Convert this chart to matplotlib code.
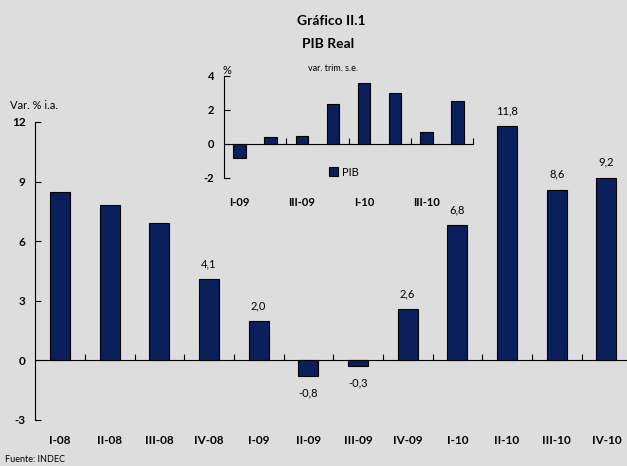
import matplotlib.pyplot as plt
import numpy as np

plt.rcParams['font.family'] = ['Lato', 'DejaVu Sans']

# datos grafico principal (var. % i.a.)
quarters = ['I-08', 'II-08', 'III-08', 'IV-08', 'I-09', 'II-09', 'III-09', 'IV-09',
            'I-10', 'II-10', 'III-10', 'IV-10']
pib_ia = [8.5, 7.8, 6.9, 4.1, 2.0, -0.8, -0.3, 2.6, 6.8, 11.8, 8.6, 9.2]
labels_ia = ['', '', '', '4,1', '2,0', '-0,8', '-0,3', '2,6', '6,8', '11,8', '8,6', '9,2']

# datos inset (var. trim. s.e.)
inset_quarters = ['I-09', 'II-09', 'III-09', 'IV-09', 'I-10', 'II-10', 'III-10', 'IV-10']
pib_trim = [-0.85, 0.4, 0.45, 2.35, 3.6, 3.0, 0.7, 2.55]
inset_ticklabels = ['I-09', 'III-09', 'I-10', 'III-10']

bg = '#dddddd'
navy = '#0b1f5c'

fig = plt.figure(figsize=(6.27, 4.66), dpi=100)
fig.patch.set_facecolor(bg)

W, H = 627.0, 466.0

# ---- main axes
ax = fig.add_axes([35.2 / W, (H - 420) / H, 596 / W, 298 / H])
ax.set_facecolor(bg)
x = np.arange(len(quarters))
ax.bar(x, pib_ia, width=0.4, color=navy, edgecolor='black', linewidth=0.8, zorder=3)
ax.set_xlim(-0.5, len(quarters) - 0.5)
ax.set_ylim(-3, 12)
ax.set_yticks([-3, 0, 3, 6, 9, 12])
ax.set_yticklabels(['-3', '0', '3', '6', '9', '12'], fontweight='bold', fontsize=8.5)
ax.tick_params(axis='y', direction='in', length=4, width=0.8, pad=7)

ax.spines['top'].set_visible(False)
ax.spines['right'].set_visible(False)
ax.spines['bottom'].set_position(('data', 0))
ax.spines['left'].set_linewidth(0.8)
ax.spines['bottom'].set_linewidth(0.8)

ax.set_xticks(x)
ax.set_xticklabels(quarters, fontweight='bold', fontsize=8.5)
ax.set_xticks(np.arange(len(quarters)) + 0.5, minor=True)
ax.tick_params(axis='x', which='major', length=0, pad=54)
ax.tick_params(axis='x', which='minor', direction='in', length=4, width=0.8)

for xi, v, lab in zip(x, pib_ia, labels_ia):
    if not lab:
        continue
    if v >= 0:
        ax.annotate(lab, (xi, v), xytext=(0, 7), textcoords='offset points',
                    ha='center', va='bottom', fontsize=8)
    else:
        ax.annotate(lab, (xi, v), xytext=(0, -8), textcoords='offset points',
                    ha='center', va='top', fontsize=8)

# ---- inset
axi = fig.add_axes([224 / W, (H - 178) / H, 249 / W, 102 / H])
axi.set_facecolor(bg)
axi.patch.set_alpha(0)
xi_ = np.arange(len(inset_quarters))
axi.bar(xi_, pib_trim, width=0.4, color=navy, edgecolor='black', linewidth=0.8,
        zorder=3, label='PIB')
axi.set_xlim(-0.5, len(inset_quarters) - 0.5)
axi.set_ylim(-2, 4)
axi.set_yticks([-2, 0, 2, 4])
axi.set_yticklabels(['-2', '0', '2', '4'], fontweight='bold', fontsize=8)
axi.tick_params(axis='y', direction='in', length=4, width=0.8, pad=7)
axi.spines['top'].set_visible(False)
axi.spines['right'].set_visible(False)
axi.spines['bottom'].set_position(('data', 0))
axi.spines['left'].set_linewidth(0.8)
axi.spines['bottom'].set_linewidth(0.8)
axi.set_xticks(xi_[::2])
axi.set_xticklabels(inset_ticklabels, fontweight='bold', fontsize=8)
axi.set_xticks(xi_[1::2] + 0.5, minor=True)
axi.tick_params(axis='x', which='major', length=0, pad=38)
axi.tick_params(axis='x', which='minor', direction='in', length=4, width=0.8)
axi.legend(loc='center', bbox_to_anchor=(344 / W, (H - 172) / H),
           bbox_transform=fig.transFigure, frameon=False, fontsize=8,
           handlelength=0.8, handleheight=0.8, handletextpad=0.4)

# ---- textos
fig.text(331 / W, 1 - 21 / H, 'Gráfico II.1', ha='center', va='center',
         fontweight='bold', fontsize=10)
fig.text(328 / W, 1 - 44 / H, 'PIB Real', ha='center', va='center',
         fontweight='bold', fontsize=10)
fig.text(333 / W, 1 - 68 / H, 'var. trim. s.e.', ha='center', va='center', fontsize=6.5)
fig.text(227 / W, 1 - 70 / H, '%', ha='center', va='center', fontsize=8)
fig.text(10 / W, 1 - 106 / H, 'Var. % i.a.', ha='left', va='center', fontsize=8)
fig.text(5 / W, 1 - 460 / H, 'Fuente: INDEC', ha='left', va='center', fontsize=6.5)

fig.savefig('out.png', dpi=100, facecolor=bg)
